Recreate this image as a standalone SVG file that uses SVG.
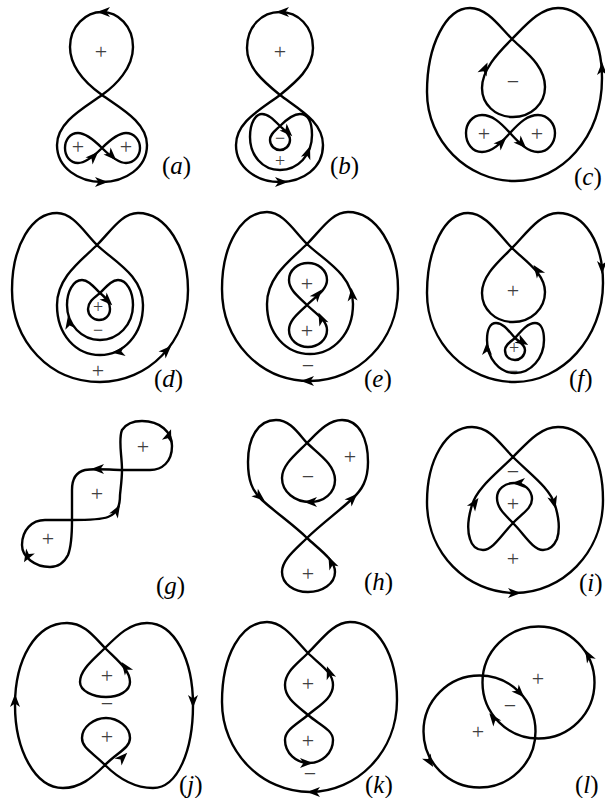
<svg xmlns="http://www.w3.org/2000/svg" xmlns:xlink="http://www.w3.org/1999/xlink" width="605" height="798" viewBox="0 0 605 798">
<style>
.c{fill:none;stroke:#000;stroke-width:2.4;stroke-linejoin:round}
.s{font-family:"Liberation Serif","Times New Roman",serif;font-size:22px;fill:#404040;text-anchor:middle}
.t{font-size:18px}
.lab{font-family:"Liberation Serif","Times New Roman",serif;font-size:25px;fill:#000}
.lab tspan{font-style:italic}
</style>
<defs>
<path id="ah" d="M6,0 L-7,-5 L-3.5,0 L-7,5 Z" fill="#000"/>
</defs>
<rect width="605" height="798" fill="#fff"/>

<g id="panel-a">
<path class="c" d="M102,95 C116,85 133,68 133,47 C133,26 118,12 102,12 C86,12 70,26 70,47 C70,68 88,85 102,95 C120,108 147,122 147,145 C147,168 125,182 102,182 C79,182 57,168 57,145 C57,122 84,108 102,95 Z"/>
<path class="c" d="M102,148 C92,138 85,133 78,133 C70,133 65,140 65,148 C65,156 70,163 78,163 C85,163 92,158 102,148 C112,138 119,133 126,133 C134,133 140,140 140,148 C140,156 134,163 126,163 C119,163 112,158 102,148 Z"/>
<use xlink:href="#ah" transform="translate(103,12) rotate(180)"/>
<use xlink:href="#ah" transform="translate(102,182)"/>
<use xlink:href="#ah" transform="translate(94,156) rotate(-45)"/>
<use xlink:href="#ah" transform="translate(112,156) rotate(45)"/>
<text class="s" x="101" y="59">+</text>
<text class="s" x="78" y="154">+</text>
<text class="s" x="126" y="154">+</text>
<text class="lab" x="162" y="174">(<tspan>a</tspan>)</text>
</g>

<g id="panel-b">
<path class="c" d="M280,95 C296,82 313,68 313,48 C313,26 298,12 280,12 C262,12 247,26 247,48 C247,68 264,82 280,95 C300,110 323,122 323,145 C323,168 303,182 280,182 C257,182 236,168 236,145 C236,122 260,110 280,95 Z"/>
<path class="c" d="M280,126 C285,131 290,134 290,140 C290,146 285,150 280,150 C275,150 270,146 270,140 C270,134 275,131 280,126 C287,119 293,114 300,114 C308,114 312,122 312,135 C312,155 298,170 280,170 C262,170 250,155 250,137 C250,122 256,114 262,114 C268,114 273,119 280,126 Z"/>
<use xlink:href="#ah" transform="translate(282,12) rotate(180)"/>
<use xlink:href="#ah" transform="translate(282,182)"/>
<use xlink:href="#ah" transform="translate(288,132) rotate(45)"/>
<use xlink:href="#ah" transform="translate(308,152) rotate(-70)"/>
<text class="s" x="280" y="59">+</text>
<text class="s t" x="280" y="144">−</text>
<text class="s t" x="280" y="167">+</text>
<text class="lab" x="330" y="174">(<tspan>b</tspan>)</text>
</g>

<g id="panel-c">
<path class="c" d="M512,39 C526,25 540,8 558,8 C584,8 602,38 602,78 C602,138 561,181 515,181 C467,181 427,141 427,92 C427,45 446,8 470,8 C487,8 499,26 512,39 C524,51 545,65 545,87 C545,104 531,117 513,117 C495,117 482,104 482,88 C482,70 497,54 512,39 Z"/>
<path class="c" d="M510,133 C500,122 492,115 482,115 C472,115 466,124 466,133 C466,143 472,152 482,152 C492,152 500,144 510,133 C520,122 528,115 538,115 C548,115 555,124 555,133 C555,143 548,152 538,152 C528,152 520,144 510,133 Z"/>
<use xlink:href="#ah" transform="translate(485,68) rotate(-65)"/>
<use xlink:href="#ah" transform="translate(602,68) rotate(-90)"/>
<use xlink:href="#ah" transform="translate(502,142) rotate(-45)"/>
<use xlink:href="#ah" transform="translate(522,144) rotate(45)"/>
<text class="s" x="513" y="89">−</text>
<text class="s" x="484" y="141">+</text>
<text class="s" x="537" y="141">+</text>
<text class="lab" x="574" y="185">(<tspan>c</tspan>)</text>
</g>

<g id="panel-d">
<path class="c" d="M97,245 C111,231 122,213 138,213 C166,213 188,248 188,290 C188,342 148,382 100,382 C50,382 12,342 12,290 C12,245 32,213 57,213 C73,213 84,232 97,245 C112,260 143,275 143,305 C143,335 123,355 100,355 C76,355 57,335 57,305 C57,277 82,260 97,245 Z"/>
<path class="c" d="M100,293 C106,298 110,302 110,309 C110,316 105,320 99,320 C93,320 88,315 88,309 C88,302 94,298 100,293 C107,286 112,280 118,280 C127,280 133,292 133,305 C133,325 118,340 100,340 C82,340 67,325 67,305 C67,292 73,280 82,280 C88,280 93,286 100,293 Z"/>
<use xlink:href="#ah" transform="translate(167,350) rotate(-45)"/>
<use xlink:href="#ah" transform="translate(118,352) rotate(172)"/>
<use xlink:href="#ah" transform="translate(69,322) rotate(-100)"/>
<use xlink:href="#ah" transform="translate(108,301) rotate(45)"/>
<text class="s t" x="98" y="313">+</text>
<text class="s t" x="98" y="336">−</text>
<text class="s" x="98" y="378">+</text>
<text class="lab" x="154" y="387">(<tspan>d</tspan>)</text>
</g>

<g id="panel-e">
<path class="c" transform="translate(210,-1)" d="M97,245 C111,231 122,213 138,213 C166,213 188,248 188,290 C188,342 148,382 100,382 C50,382 12,342 12,290 C12,245 32,213 57,213 C73,213 84,232 97,245 C112,260 143,275 143,305 C143,335 123,355 100,355 C76,355 57,335 57,305 C57,277 82,260 97,245 Z"/>
<path class="c" d="M307,305 C315,297 327,290 327,280 C327,270 318,263 308,263 C298,263 289,270 289,280 C289,290 299,297 307,305 C315,313 327,320 327,330 C327,340 318,347 308,347 C298,347 289,340 289,330 C289,320 299,313 307,305 Z"/>
<use xlink:href="#ah" transform="translate(307,381) rotate(180)"/>
<use xlink:href="#ah" transform="translate(352,294) rotate(-95)"/>
<use xlink:href="#ah" transform="translate(318,294) rotate(-50)"/>
<use xlink:href="#ah" transform="translate(321,318) rotate(-115)"/>
<text class="s" x="307" y="291">+</text>
<text class="s" x="307" y="338">+</text>
<text class="s" x="308" y="373">−</text>
<text class="lab" x="364" y="387">(<tspan>e</tspan>)</text>
</g>

<g id="panel-f">
<path class="c" d="M512,248 C526,234 540,213 558,213 C585,213 603,243 603,283 C603,338 562,382 515,382 C467,382 427,343 427,293 C427,248 445,213 468,213 C486,213 499,235 512,248 C524,260 545,273 545,292 C545,309 531,322 513,322 C495,322 482,309 482,293 C482,276 497,263 512,248 Z"/>
<path class="c" d="M515,338 C520,342 525,345 525,350 C525,356 520,360 515,360 C509,360 505,356 505,350 C505,345 510,342 515,338 C522,330 528,323 535,323 C541,323 544,330 544,340 C544,358 531,373 515,373 C499,373 487,358 487,340 C487,330 490,323 496,323 C503,323 508,330 515,338 Z"/>
<use xlink:href="#ah" transform="translate(602,268) rotate(90)"/>
<use xlink:href="#ah" transform="translate(537,270) rotate(-125)"/>
<use xlink:href="#ah" transform="translate(487,348) rotate(-90)"/>
<use xlink:href="#ah" transform="translate(523,342) rotate(30)"/>
<text class="s" x="513" y="298">+</text>
<text class="s t" x="514" y="354">+</text>
<text class="s t" x="513" y="377">−</text>
<text class="lab" x="569" y="387">(<tspan>f</tspan>)</text>
</g>

<g id="panel-g">
<path class="c" d="M122,470 C122,455 118,440 122,430 C126,424 133,421 142,421 C160,421 172,432 172,446 C172,462 162,470 150,470 C140,470 130,470 122,470 C110,470 95,468 85,470 C76,472 72,478 72,490 C72,500 72,510 72,520 C72,532 72,545 68,555 C64,563 58,567 50,567 C35,567 22,557 22,545 C22,530 32,520 45,520 C55,520 65,520 72,520 C82,520 100,520 108,517 C118,513 120,505 120,495 C121,485 122,478 122,470 Z"/>
<use xlink:href="#ah" transform="translate(169,435) rotate(-70)"/>
<use xlink:href="#ah" transform="translate(97,469) rotate(180)"/>
<use xlink:href="#ah" transform="translate(117,510) rotate(-60)"/>
<use xlink:href="#ah" transform="translate(27,557) rotate(120)"/>
<text class="s" x="143" y="454">+</text>
<text class="s" x="97" y="501">+</text>
<text class="s" x="48" y="546">+</text>
<text class="lab" x="156" y="594">(<tspan>g</tspan>)</text>
</g>

<g id="panel-h">
<path class="c" d="M307,443 C320,455 335,465 335,480 C335,493 324,502 310,502 C295,502 282,492 282,478 C282,465 295,455 307,443 C318,432 328,420 342,420 C360,420 368,440 368,462 C368,480 362,490 352,499 C338,512 320,525 307,538 C295,550 282,560 282,572 C282,584 294,592 308,592 C322,592 335,584 335,572 C335,560 320,550 307,538 C295,526 275,512 262,500 C252,491 248,480 248,462 C248,438 258,420 276,420 C290,420 298,433 307,443 Z"/>
<use xlink:href="#ah" transform="translate(260,497) rotate(40)"/>
<use xlink:href="#ah" transform="translate(353,498) rotate(-45)"/>
<use xlink:href="#ah" transform="translate(310,502) rotate(180)"/>
<use xlink:href="#ah" transform="translate(331,562) rotate(-115)"/>
<text class="s" x="350" y="464">+</text>
<text class="s" x="308" y="484">−</text>
<text class="s" x="308" y="581">+</text>
<text class="lab" x="364" y="590">(<tspan>h</tspan>)</text>
</g>

<g id="panel-i">
<path class="c" d="M513,457 C527,443 540,427 558,427 C586,427 603,458 603,500 C603,553 562,593 515,593 C467,593 427,553 427,502 C427,460 446,427 472,427 C490,427 500,444 513,457 C530,474 550,488 555,505 C559,518 560,530 557,539 C554,546 549,550 543,550 C533,550 524,534 513,523 C503,513 497,507 497,498 C497,489 505,483 514,483 C524,483 532,490 532,499 C532,508 523,513 513,523 C502,534 493,550 483,550 C477,550 472,546 470,539 C467,530 468,518 472,505 C477,488 496,474 513,457 Z"/>
<use xlink:href="#ah" transform="translate(475,503) rotate(-55)"/>
<use xlink:href="#ah" transform="translate(554,503) rotate(75)"/>
<use xlink:href="#ah" transform="translate(518,483) rotate(180)"/>
<use xlink:href="#ah" transform="translate(515,593)"/>
<text class="s" x="513" y="479">−</text>
<text class="s" x="513" y="511">+</text>
<text class="s" x="513" y="566">+</text>
<text class="lab" x="579" y="591">(<tspan>i</tspan>)</text>
</g>

<g id="panel-j">
<path class="c" d="M105,648 C118,635 130,623 147,623 C175,623 193,660 193,705 C193,750 178,788 153,788 C135,788 118,778 105,765 C92,752 82,748 82,738 C82,727 94,718 106,718 C118,718 130,727 130,738 C130,748 118,752 105,765 C92,778 80,788 63,788 C35,788 15,750 15,705 C15,660 35,623 67,623 C85,623 95,638 105,648 C118,661 130,670 130,682 C130,691 119,697 106,697 C93,697 80,691 80,682 C80,670 92,661 105,648 Z"/>
<use xlink:href="#ah" transform="translate(125,667) rotate(-125)"/>
<use xlink:href="#ah" transform="translate(123,757) rotate(-45)"/>
<use xlink:href="#ah" transform="translate(15,700) rotate(-90)"/>
<use xlink:href="#ah" transform="translate(193,702) rotate(90)"/>
<text class="s" x="107" y="683">+</text>
<text class="s" x="107" y="711">−</text>
<text class="s" x="107" y="744">+</text>
<text class="lab" x="179" y="793">(<tspan>j</tspan>)</text>
</g>

<g id="panel-k">
<path class="c" d="M308,653 C322,639 334,622 350,622 C378,622 397,655 397,700 C397,752 357,792 310,792 C262,792 222,752 222,702 C222,655 241,622 267,622 C284,622 296,641 308,653 C320,665 333,672 333,685 C333,698 320,705 308,715 C296,725 285,730 285,740 C285,753 296,763 309,763 C322,763 333,753 333,740 C333,730 320,725 308,715 C296,705 285,698 285,685 C285,672 296,665 308,653 Z"/>
<use xlink:href="#ah" transform="translate(329,672) rotate(-110)"/>
<use xlink:href="#ah" transform="translate(307,763)"/>
<use xlink:href="#ah" transform="translate(313,792) rotate(180)"/>
<text class="s" x="308" y="691">+</text>
<text class="s" x="308" y="748">+</text>
<text class="s" x="310" y="781">−</text>
<text class="lab" x="365" y="793">(<tspan>k</tspan>)</text>
</g>

<g id="panel-l">
<circle class="c" cx="538.5" cy="682.5" r="56"/>
<circle class="c" cx="479.5" cy="731.5" r="56"/>
<use xlink:href="#ah" transform="translate(588,655) rotate(-119)"/>
<use xlink:href="#ah" transform="translate(520,693) rotate(46)"/>
<use xlink:href="#ah" transform="translate(493,718) rotate(-128)"/>
<use xlink:href="#ah" transform="translate(430,762) rotate(58)"/>
<text class="s" x="538" y="686">+</text>
<text class="s" x="510" y="713">−</text>
<text class="s" x="478" y="739">+</text>
<text class="lab" x="575" y="793">(<tspan>l</tspan>)</text>
</g>
</svg>
